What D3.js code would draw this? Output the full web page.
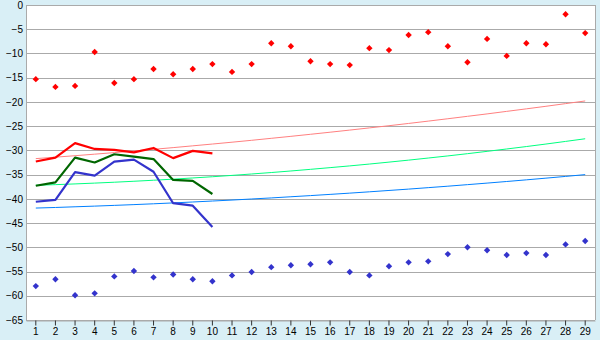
<!DOCTYPE html>
<html>
<head>
<meta charset="utf-8">
<script src="https://cdn.jsdelivr.net/npm/d3@7"></script>
<style>
  body { margin: 0; background: #d9eff6; }
  #chart_div { width: 600px; height: 340px; }
</style>
</head>
<body>
<div id="chart_div"></div>
<script>
// categories along the bottom
var categories = [1, 2, 3, 4, 5, 6, 7, 8, 9, 10, 11, 12, 13, 14, 15, 16, 17, 18, 19, 20,
                  21, 22, 23, 24, 25, 26, 27, 28, 29];
var yTicks = [0, -5, -10, -15, -20, -25, -30, -35, -40, -45, -50, -55, -60, -65];

// scattered markers
var redPoints = [-15.3, -16.9, -16.7, -9.7, -16.1, -15.3, -13.2, -14.3, -13.2, -12.2,
                 -13.8, -12.2, -7.9, -8.5, -11.6, -12.2, -12.4, -8.9, -9.3, -6.2,
                 -5.6, -8.5, -11.8, -7.0, -10.5, -7.9, -8.1, -1.9, -5.8];
var bluePoints = [-58.0, -56.6, -59.9, -59.5, -56.0, -54.9, -56.2, -55.6, -56.6, -57.0,
                  -55.8, -55.1, -54.1, -53.7, -53.5, -53.1, -55.1, -55.8, -53.9, -53.1,
                  -52.9, -51.4, -50.0, -50.6, -51.6, -51.2, -51.6, -49.4, -48.7];

// thick lines, first 10 categories
var redLine = [-32.3, -31.5, -28.5, -29.7, -29.9, -30.4, -29.5, -31.6, -30.1, -30.6];
var greenLine = [-37.3, -36.6, -31.5, -32.5, -30.8, -31.3, -31.8, -36.1, -36.3, -39.0];
var blueLine = [-40.6, -40.2, -34.5, -35.2, -32.3, -31.9, -34.4, -40.9, -41.4, -45.8];

// thin trend lines
var pinkTrend = [-31.7, -31.4, -31.1, -30.78, -30.46, -30.12, -29.78, -29.43, -29.06, -28.69,
                 -28.31, -27.92, -27.51, -27.1, -26.68, -26.25, -25.81, -25.36, -24.91, -24.44,
                 -23.96, -23.47, -22.97, -22.47, -21.95, -21.43, -20.9, -20.35, -19.8];
var greenTrend = [-37.2, -37.07, -36.92, -36.75, -36.57, -36.37, -36.16, -35.94, -35.69, -35.44,
                  -35.16, -34.87, -34.57, -34.25, -33.91, -33.56, -33.2, -32.82, -32.42, -32.01,
                  -31.58, -31.14, -30.68, -30.2, -29.71, -29.21, -28.69, -28.15, -27.6];
var blueTrend = [-41.9, -41.78, -41.64, -41.5, -41.35, -41.19, -41.02, -40.84, -40.65, -40.45,
                 -40.25, -40.03, -39.81, -39.57, -39.33, -39.08, -38.82, -38.55, -38.27, -37.99,
                 -37.69, -37.39, -37.07, -36.75, -36.42, -36.08, -35.73, -35.37, -35.0];

var width = 600;
var height = 340;
var margin = { top: 5, right: 5, bottom: 20, left: 26 };

var svg = d3.select("#chart_div")
  .append("svg")
  .attr("width", width)
  .attr("height", height)
  .style("font", "10px 'DejaVu Sans', Verdana, sans-serif");

// background
svg.append("rect")
  .attr("width", width)
  .attr("height", height)
  .attr("fill", "#d9eff6");

var x = d3.scaleBand()
  .domain(categories)
  .range([margin.left, width - margin.right]);

var y = d3.scaleLinear()
  .domain([-65, 0])
  .range([height - margin.bottom, margin.top]);

var cx = d => x(d) + x.bandwidth() / 2;

// plot area
svg.append("rect")
  .attr("x", margin.left)
  .attr("y", margin.top)
  .attr("width", width - margin.left - margin.right)
  .attr("height", height - margin.top - margin.bottom)
  .attr("fill", "white");

// gridlines + y labels
svg.append("g")
  .attr("transform", `translate(${margin.left},0)`)
  .call(d3.axisLeft(y).tickValues(yTicks).tickSize(0).tickPadding(3)
    .tickFormat(d => d3.format("")(d).replace("-", "\u2212")))
  .call(g => g.select(".domain").remove())
  .call(g => g.selectAll(".tick text").attr("fill", "#000").style("font-size", "10px"))
  .call(g => g.selectAll(".tick line").clone()
      .attr("x2", width - margin.left - margin.right)
      .attr("stroke", "#aaaaaa")
      .attr("shape-rendering", "crispEdges"));

// left axis and right border
svg.append("line")
  .attr("x1", margin.left + 0.5).attr("x2", margin.left + 0.5)
  .attr("y1", margin.top).attr("y2", height - margin.bottom)
  .attr("stroke", "#aaaaaa");
svg.append("line")
  .attr("x1", width - margin.right + 0.5).attr("x2", width - margin.right + 0.5)
  .attr("y1", margin.top).attr("y2", height - margin.bottom)
  .attr("stroke", "#aaaaaa");

// x axis
svg.append("g")
  .attr("transform", `translate(0,${height - margin.bottom + 0.5})`)
  .call(d3.axisBottom(x).tickSize(5).tickSizeOuter(0).tickPadding(2))
  .call(g => g.select(".domain").attr("stroke", "#aaaaaa"))
  .call(g => g.selectAll(".tick line").attr("stroke", "#333"))
  .call(g => g.selectAll(".tick text").attr("fill", "#000").style("font-size", "10px"));

// trend lines (thin)
function trend(vals, color) {
  svg.append("path")
    .datum(vals)
    .attr("fill", "none")
    .attr("stroke", color)
    .attr("stroke-width", 1)
    .attr("d", d3.line()
      .x((d, i) => cx(categories[i]))
      .y(d => y(d)));
}
trend(pinkTrend, "#ff8080");
trend(greenTrend, "#00ff80");
trend(blueTrend, "#0080ff");

// thick lines
function thick(vals, color) {
  svg.append("path")
    .datum(vals)
    .attr("fill", "none")
    .attr("stroke", color)
    .attr("stroke-width", 2.2)
    .attr("stroke-linejoin", "round")
    .attr("d", d3.line()
      .x((d, i) => cx(categories[i]))
      .y(d => y(d)));
}
thick(redLine, "#ff0000");
thick(greenLine, "#006600");
thick(blueLine, "#3333cc");

// markers
var diamond = d3.symbol().type(d3.symbolDiamond2).size(26);
function markers(vals, color) {
  svg.append("g")
    .selectAll("path")
    .data(vals)
    .join("path")
    .attr("transform", (d, i) => `translate(${cx(categories[i])},${y(d)})`)
    .attr("d", diamond)
    .attr("fill", color);
}
markers(redPoints, "#ff0000");
markers(bluePoints, "#3333cc");
</script>
</body>
</html>
